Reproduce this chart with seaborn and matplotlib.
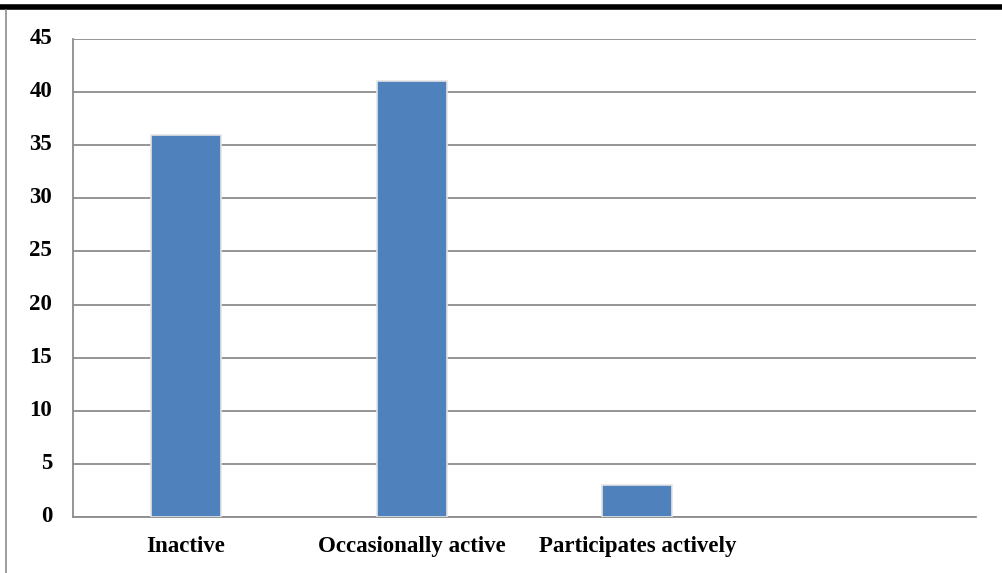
import numpy as np
import pandas as pd
import seaborn as sns
import matplotlib.pyplot as plt
from matplotlib.lines import Line2D
from matplotlib.transforms import ScaledTranslation

categories = ['Inactive', 'Occasionally active', 'Participates actively']
counts = [36, 41, 3]

sns.set_style('white')
plt.rcParams['font.family'] = ['Liberation Serif', 'DejaVu Serif']
plt.rcParams['text.color'] = 'black'
plt.rcParams['xtick.color'] = 'black'
plt.rcParams['ytick.color'] = 'black'

df = pd.DataFrame({'status': categories, 'count': counts})

fig = plt.figure(figsize=(10.02, 5.73), dpi=100)
ax = fig.add_axes([0.0729, 0.0977, 0.9011, 0.8343])

sns.barplot(data=df, x='status', y='count', color='#4f81bd', saturation=1,
            width=0.31, edgecolor='#e4e4e4', linewidth=1.2, ax=ax, zorder=3)

ax.set_xlim(-0.5, 3.5)
ax.set_ylim(0, 45)
ax.set_yticks(np.arange(0, 46, 5))
ax.yaxis.grid(True, color='#8c8c8c', linewidth=1.3, zorder=0)
ax.set_axisbelow(True)
for side in ['left', 'bottom']:
    ax.spines[side].set_color('#8c8c8c')
    ax.spines[side].set_linewidth(1.3)
ax.spines['top'].set_visible(False)
ax.spines['right'].set_visible(False)
ax.tick_params(axis='y', length=0, pad=15, labelcolor='black')
ax.tick_params(axis='x', length=0, pad=14, labelcolor='black')
ax.set_xticks(range(len(categories)))
ax.set_xticklabels(categories, fontsize=16.5, fontweight='bold')
shift = ScaledTranslation(0, 3 / 100, fig.dpi_scale_trans)
for t in ax.get_yticklabels():
    t.set_fontsize(16.5)
    t.set_fontweight('bold')
    t.set_transform(t.get_transform() + shift)
ax.set_xlabel('')
ax.set_ylabel('')

# page frame lines around the chart
fig.add_artist(Line2D([0, 1], [0.988, 0.988], color='black', linewidth=4, transform=fig.transFigure))
fig.add_artist(Line2D([0.006, 0.006], [0, 0.982], color='#8c8c8c', linewidth=1.2, transform=fig.transFigure))

fig.savefig('out.png', dpi=100)
